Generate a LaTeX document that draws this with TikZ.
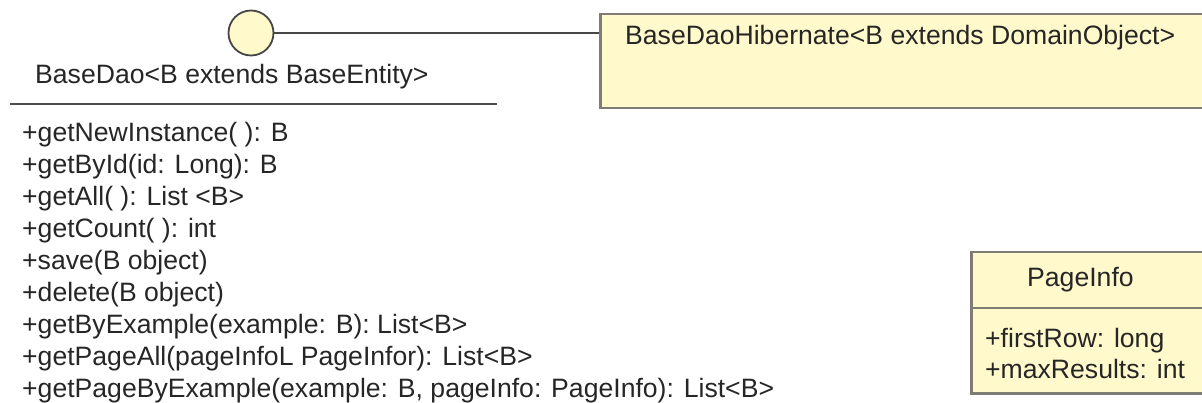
\documentclass[tikz,border=0pt]{standalone}
\usepackage{fontspec}
\setmainfont{Liberation Sans}
\definecolor{umlfill}{RGB}{255,249,204}
\definecolor{umledge}{RGB}{125,125,118}
\definecolor{umlline}{RGB}{70,70,70}
\begin{document}
\begin{tikzpicture}[x=1pt,y=-1pt,
  txt/.style={inner sep=0pt, font=\fontsize{26.6}{32}\selectfont, anchor=base west, text=black!85},
  box/.style={draw=umledge, fill=umlfill, line width=2.5pt, inner sep=0pt, anchor=north west},
  conn/.style={draw=umlline, line width=1.6pt},
  ]
\useasboundingbox (0,0) rectangle (1202,403);
\clip (0,0) rectangle (1202,403);
\fill[white] (0,0) rectangle (1202,403);
% interface lollipop
\node[circle, draw=umlline, fill=umlfill, line width=1.8pt, minimum size=45pt, inner sep=0pt] (iface) at (251,33) {};
\node[txt] (ifacename) at (35,84) {BaseDao<B extends BaseEntity>};
\coordinate (sepL) at (10,104);
\coordinate (sepR) at (497,104);
\draw[conn, draw=black!70, line width=2pt] (sepL) -- (sepR);
\foreach \t [count=\i] in {{+getNewInstance( ): B},{+getById(id: Long): B},{+getAll( ): List <B>},{+getCount( ): int},{+save(B object)},{+delete(B object)},{+getByExample(example: B): List<B>},{+getPageAll(pageInfoL PageInfor): List<B>},{+getPageByExample(example: B, pageInfo: PageInfo): List<B>}}{
  \node[txt] (m\i) at (22,{109+32.1*\i}) {\t};
}
% implementation class
\node[box, minimum width=640pt, minimum height=94pt] (impl) at (599,13) {};
\node[txt] (implname) at (625,45) {BaseDaoHibernate<B extends DomainObject>};
\draw[conn] (iface.east) -- (iface.east -| impl.west);
% PageInfo class
\node[box, minimum width=260pt, minimum height=141pt] (page) at (970,251) {};
\coordinate (divL) at (970,308);
\coordinate (divR) at (1230,308);
\draw[draw=umledge, line width=2.5pt] (divL) -- (divR);
\node[txt] (pagename) at (1027,287) {PageInfo};
\node[txt] (a1) at (985,347) {+firstRow: long};
\node[txt] (a2) at (985,378) {+maxResults: int};
\end{tikzpicture}
\end{document}
